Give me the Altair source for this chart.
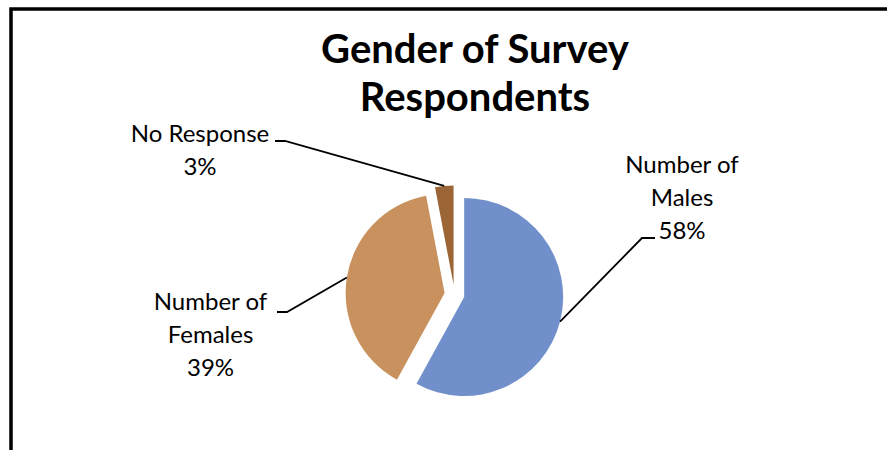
import math
import altair as alt
import pandas as pd

# ---- data ----
categories = ["Number of Males", "Number of Females", "No Response"]
percents = [58, 39, 3]
label_lines = ["Number of\nMales", "Number of\nFemales", "No Response"]
title_text = "Gender of Survey\nRespondents"

# ---- styling / layout ----
colors = ["#7190cb", "#c8915d", "#9b6536"]
FONT = "Lato"
PAD_L, PAD_T = 11, 9
W, H = 887 - PAD_L, 450 - PAD_T
CX, CY = 443.5, 285.5        # pie centre (view px)
R = 99                       # pie radius
EXPLODE = 10                 # slice explosion distance

# label anchor (centre x, first baseline y) and leader elbow points, view px
label_pos = {
    "Number of Males": (671, 164),
    "Number of Females": (199.5, 301),
    "No Response": (189, 133),
}
leader_pts = {
    "Number of Males": [(644, 229), (631, 229)],
    "Number of Females": [(266, 303), (276, 303)],
    "No Response": [(264, 132), (274, 132)],
}

total = sum(percents)
rows, lead, labs = [], [], []
cum = 0
for i, (c, p) in enumerate(zip(categories, percents)):
    a0 = cum / total * 100
    cum += p
    a1 = cum / total * 100
    mid = 2 * math.pi * (a0 + a1) / 200
    px = CX + EXPLODE * math.sin(mid)
    py = CY - EXPLODE * math.cos(mid)
    rows.append(dict(category=c, pct=p, a0=a0, a1=a1, px=px, py=py, idx=i))
    ex = px + R * math.sin(mid)
    ey = py - R * math.cos(mid)
    for k, (x, y) in enumerate(leader_pts[c] + [(ex, ey)]):
        lead.append(dict(category=c, k=k, x=x, y=y))
    lx, ly = label_pos[c]
    labs.append(dict(category=c, text=f"{label_lines[i]}\n{round(p / total * 100)}%", x=lx, y=ly))

slices = pd.DataFrame(rows)
leaders = pd.DataFrame(lead)
labels = pd.DataFrame(labs)

frame = alt.Chart(pd.DataFrame({"f": [0]})).mark_rect(
    filled=False, stroke="black", strokeWidth=3.5
).encode(
    x=alt.value(0), y=alt.value(0), x2=alt.value(W + 30), y2=alt.value(H + 30)
)

pie = alt.Chart(slices).mark_arc(outerRadius=R).encode(
    theta=alt.Theta("a0:Q", scale=alt.Scale(domain=[0, 100], range=[0, 2 * math.pi])),
    theta2="a1:Q",
    x=alt.X("px:Q", scale=None, axis=None),
    y=alt.Y("py:Q", scale=None, axis=None),
    color=alt.Color("category:N", scale=alt.Scale(domain=categories, range=colors), legend=None),
)

lines = alt.Chart(leaders).mark_line(color="black", strokeWidth=1.8).encode(
    x=alt.X("x:Q", scale=None, axis=None),
    y=alt.Y("y:Q", scale=None, axis=None),
    detail="category:N",
    order="k:Q",
)

text = alt.Chart(labels).mark_text(
    font=FONT, fontSize=24, lineBreak="\n", lineHeight=33,
    align="center", baseline="alphabetic", color="black"
).encode(
    x=alt.X("x:Q", scale=None, axis=None),
    y=alt.Y("y:Q", scale=None, axis=None),
    text="text:N",
)

title = alt.Chart(pd.DataFrame({"t": [title_text]})).mark_text(
    font=FONT, fontSize=40, fontWeight="bold", lineBreak="\n", lineHeight=48,
    align="center", baseline="alphabetic", color="black"
).encode(
    x=alt.value(464), y=alt.value(54), text="t:N"
)

chart = alt.layer(frame, pie, lines, text, title).properties(
    width=W, height=H,
    autosize=alt.AutoSizeParams(type="none"),
    padding={"left": PAD_L, "top": PAD_T, "right": 0, "bottom": 0},
    background="white",
).configure_view(strokeWidth=0)

chart.save("out.html", embed_options={"renderer": "svg", "actions": False})
